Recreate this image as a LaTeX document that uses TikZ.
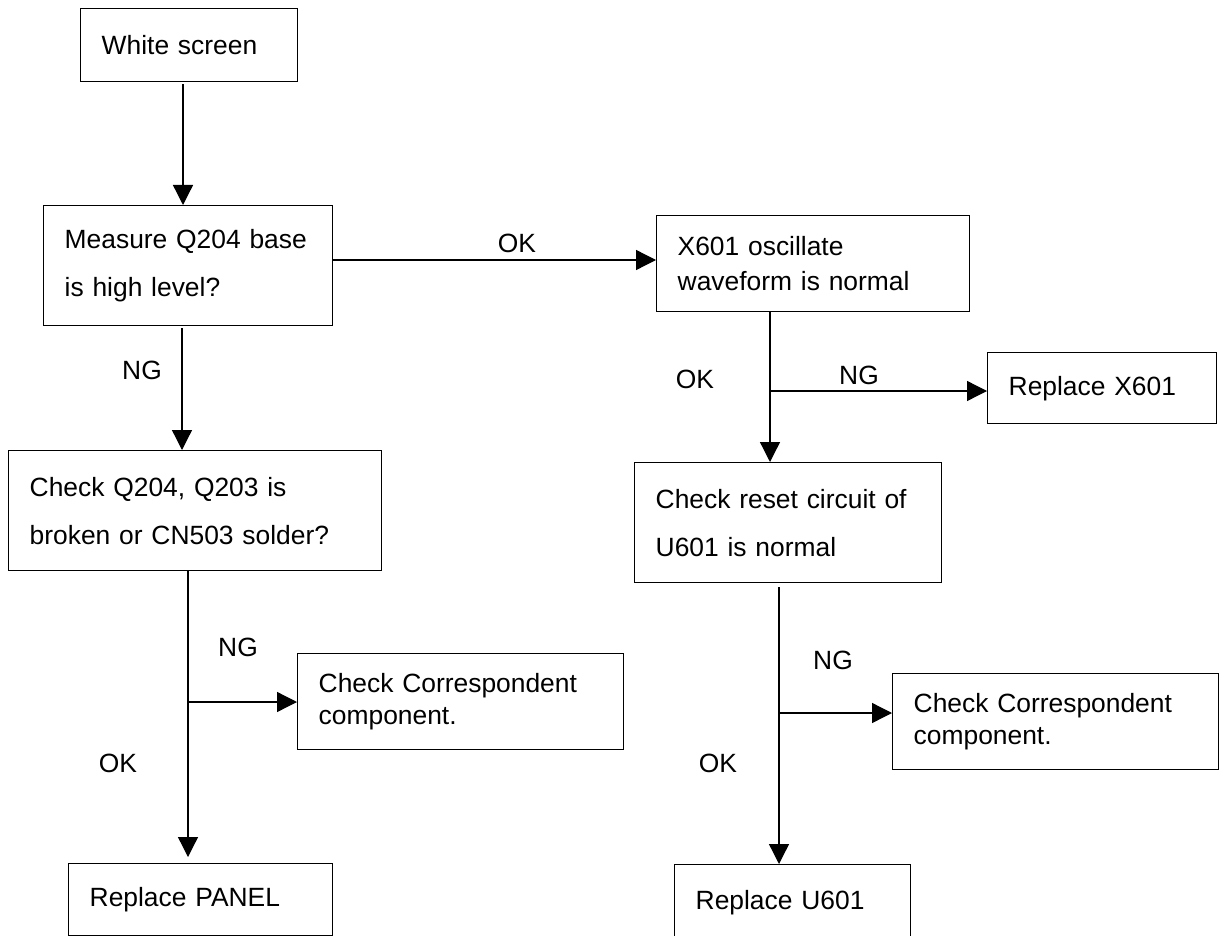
\documentclass[tikz,border=0pt]{standalone}
\usepackage{fontspec}
\setmainfont{Liberation Sans}
\usetikzlibrary{arrows.meta}
\begin{document}
\begin{tikzpicture}[x=0.5pt,y=-0.5pt,
  box/.style={draw, line width=0.7pt, anchor=north west, inner xsep=10.5pt, inner ysep=0pt,
              align=left, font=\fontsize{13.2pt}{24pt}\selectfont},
  tight/.style={font=\fontsize{13.2pt}{16pt}\selectfont},
  lbl/.style={font=\fontsize{13.2pt}{16pt}\selectfont, inner sep=0pt},
  arr/.style={line width=0.65pt, -{Triangle[length=10pt,width=10pt]}}]
\useasboundingbox[fill=white] (0,0) rectangle (1220,936);

% boxes
\node[box, text width=87.5pt, minimum height=36.5pt] (white) at (80,8) {White screen};
\node[box, text width=123.5pt, minimum height=60pt] (measure) at (43,205) {Measure Q204 base\\is high level?};
\node[box, text width=135.5pt, minimum height=48pt, font=\fontsize{13.2pt}{17.5pt}\selectfont] (x601) at (656,215) {X601 oscillate\\waveform is normal};
\node[box, text width=93.5pt, minimum height=35.5pt] (rx601) at (987,352) {Replace X601};
\node[box, text width=165.5pt, minimum height=60pt] (chk) at (8,450) {Check Q204, Q203 is\\broken or CN503 solder?};
\node[box, text width=132.5pt, minimum height=60pt] (reset) at (634,462) {Check reset circuit of\\U601 is normal};
\node[box, tight, text width=142pt, minimum height=48pt] (corrL) at (297,653) {Check Correspondent\\component.};
\node[box, tight, text width=142pt, minimum height=48pt] (corrR) at (892,673) {Check Correspondent\\component.};
\node[box, text width=111pt, minimum height=36pt] (panel) at (68,863) {Replace PANEL};
\node[box, text width=97pt, minimum height=38pt] (u601) at (674,864) {Replace U601};

% connectors
\draw[arr] ([yshift=-1pt]white.south -| 183,0) -- (measure.north -| 183,0);

\draw[arr] (measure.east |- 0,260) -- (x601.west |- 0,260);
\node[lbl] (ok1) at (517,243) {OK};

\draw[arr] ([yshift=-1pt]measure.south -| 182,0) -- (chk.north -| 182,0);
\node[lbl] (ng1) at (142,370) {NG};

\draw[arr] (x601.south -| 770,0) -- (reset.north -| 770,0);
\coordinate (b1) at (770,391);
\draw[arr] (b1) -- (rx601.west |- b1);
\node[lbl] (ok2) at (695,379) {OK};
\node[lbl] (ng2) at (859,375) {NG};

\draw[arr] (chk.south -| 188,0) -- ([yshift=3pt]panel.north -| 188,0);
\coordinate (b2) at (188,702);
\draw[arr] (b2) -- (corrL.west |- b2);
\node[lbl] (ng3) at (238,647) {NG};
\node[lbl] (ok3) at (118,763) {OK};

\draw[arr] ([yshift=-2pt]reset.south -| 779,0) -- (u601.north -| 779,0);
\coordinate (b3) at (779,713);
\draw[arr] (b3) -- (corrR.west |- b3);
\node[lbl] (ng4) at (833,660) {NG};
\node[lbl] (ok4) at (718,763) {OK};
\end{tikzpicture}
\end{document}
